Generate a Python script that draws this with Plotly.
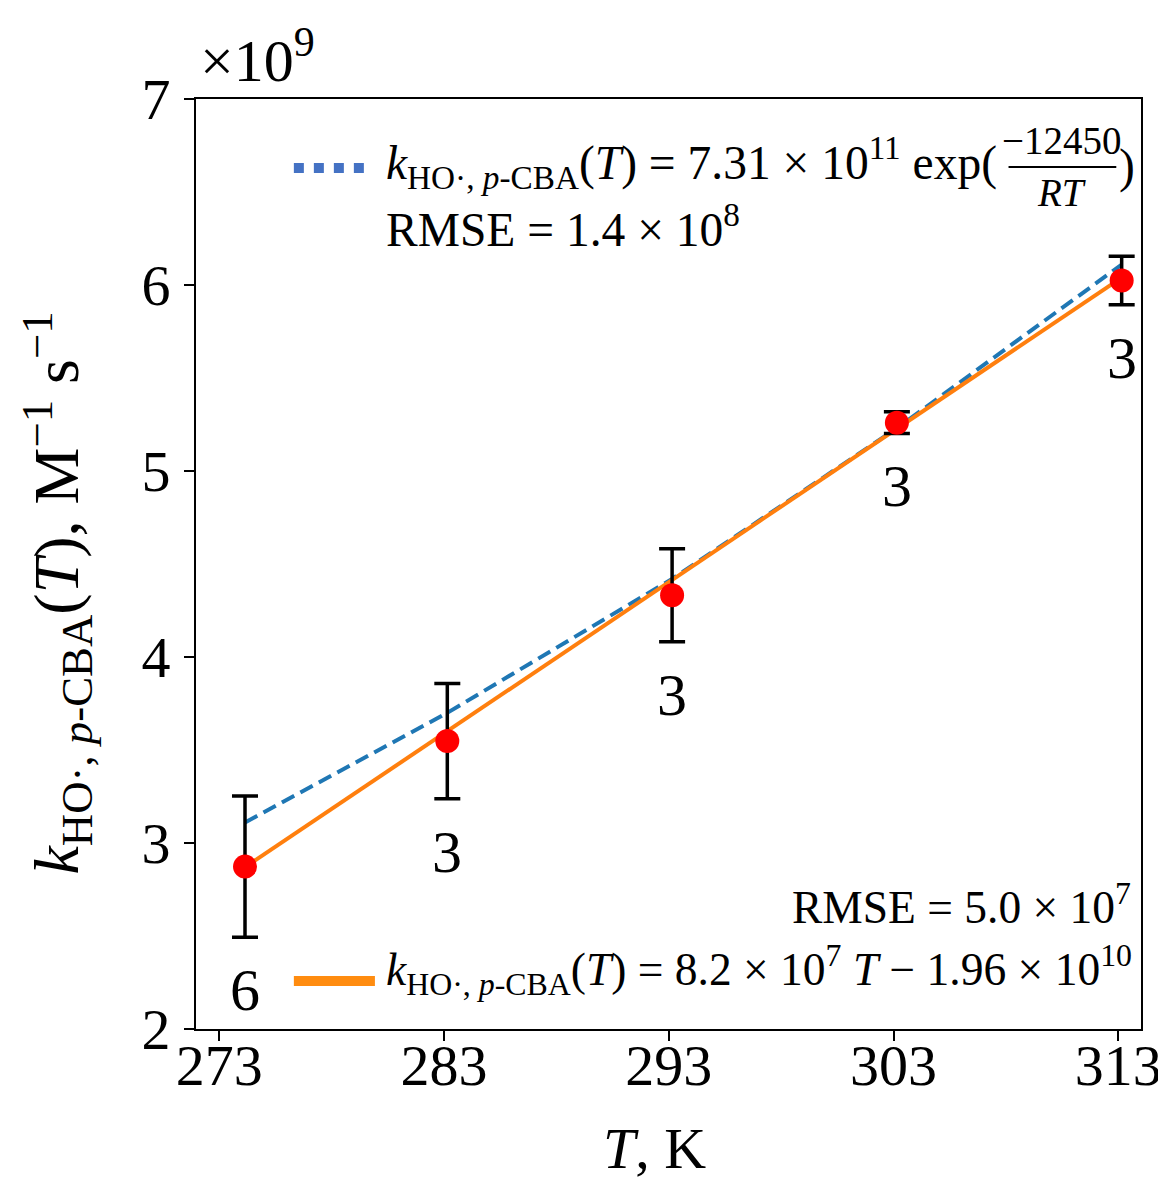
import plotly.graph_objects as go

# ---- data (k in units of 1e9 M^-1 s^-1) ----
T = [274.15, 283.15, 293.15, 303.15, 313.15]
k_obs = [2.873, 3.548, 4.332, 5.260, 6.024]
k_err = [0.38, 0.31, 0.25, 0.058, 0.13]
n_runs = ["6", "3", "3", "3", "3"]
k_arrhenius = [3.11, 3.70, 4.42, 5.23, 6.11]
T_lin = [274.15, 313.15]
k_lin = [2.87, 6.04]
x_ticks = [273, 283, 293, 303, 313]
y_ticks = [2, 3, 4, 5, 6, 7]

FONT = "Liberation Serif, Times New Roman, serif"
W, H = 1166, 1182
L, R, TOP, B = 188, 22, 91, 161
PW, PH = W - L - R, H - TOP - B


def px(x):
    return (x - L) / PW


def py(y):
    return (H - B - y) / PH


fig = go.Figure()
fig.add_trace(go.Scatter(x=T, y=k_arrhenius, mode="lines",
                         line=dict(color="#1f77b4", width=4, dash="14px,7px"),
                         showlegend=False))
fig.add_trace(go.Scatter(x=T_lin, y=k_lin, mode="lines",
                         line=dict(color="#ff7f0e", width=4),
                         showlegend=False))
fig.add_trace(go.Scatter(x=T, y=k_obs, mode="markers",
                         marker=dict(color="#ff0000", size=24),
                         error_y=dict(type="data", array=k_err, visible=True,
                                      color="black", thickness=3.5, width=13),
                         showlegend=False))

BIG = dict(family=FONT, size=60, color="black")
TICK = dict(family=FONT, size=58, color="black")
ann = []
for t, y, e, n in zip(T, k_obs, k_err, n_runs):
    ann.append(dict(x=t, y=y - e, xref="x", yref="y", text=n, showarrow=False,
                    xanchor="center", yanchor="middle", yshift=-53, font=BIG))

LF = dict(family=FONT, size=47.5, color="black")
LF2 = dict(family=FONT, size=45.5, color="black")
FF = dict(family=FONT, size=39, color="black")
sub = "<i>k</i><sub>HO·, <i>p</i>-CBA</sub>(<i>T</i>)"
ann += [
    dict(x=px(378), y=py(154), xref="paper", yref="paper", showarrow=False,
         xanchor="left", yanchor="middle", font=LF,
         text=sub + " = 7.31 × 10<sup>11</sup> exp("),
    dict(x=px(1064), y=py(132), xref="paper", yref="paper", showarrow=False,
         xanchor="center", yanchor="middle", font=FF, text="−12450"),
    dict(x=px(1064), y=py(184), xref="paper", yref="paper", showarrow=False,
         xanchor="center", yanchor="middle", font=FF, text="<i>RT</i>"),
    dict(x=px(1120), y=py(158), xref="paper", yref="paper", showarrow=False,
         xanchor="left", yanchor="middle", font=LF, text=")"),
    dict(x=px(378), y=py(218), xref="paper", yref="paper", showarrow=False,
         xanchor="left", yanchor="middle", font=LF,
         text="RMSE = 1.4 × 10<sup>8</sup>"),
    dict(x=px(1136), y=py(896), xref="paper", yref="paper", showarrow=False,
         xanchor="right", yanchor="middle", font=LF2,
         text="RMSE = 5.0 × 10<sup>7</sup>"),
    dict(x=px(378), y=py(962), xref="paper", yref="paper", showarrow=False,
         xanchor="left", yanchor="middle", font=LF2,
         text=sub + " = 8.2 × 10<sup>7</sup> <i>T</i> − 1.96 × 10<sup>10</sup>"),
    dict(x=px(190), y=py(48), xref="paper", yref="paper", showarrow=False,
         xanchor="left", yanchor="middle", font=BIG,
         text="×10<sup>9</sup>"),
    dict(x=px(47), y=py(585), xref="paper", yref="paper", showarrow=False,
         xanchor="center", yanchor="middle", textangle=-90,
         font=dict(family=FONT, size=64, color="black"),
         text=sub + ", M<sup>−1</sup> s<sup>−1</sup>"),
    dict(x=px(652), y=py(1140), xref="paper", yref="paper", showarrow=False,
         xanchor="center", yanchor="middle", font=TICK,
         text="<i>T</i>, K"),
]

shapes = [
    dict(type="line", xref="paper", yref="paper", x0=px(1010), x1=px(1119),
         y0=py(159), y1=py(159), line=dict(color="black", width=2)),
    dict(type="line", xref="paper", yref="paper", x0=px(287), x1=px(367),
         y0=py(160), y1=py(160), line=dict(color="#4472c4", width=10, dash="10px,10px")),
    dict(type="line", xref="paper", yref="paper", x0=px(287), x1=px(369),
         y0=py(973), y1=py(973), line=dict(color="#ff8c10", width=10)),
]

axis_common = dict(showline=True, linecolor="black", linewidth=2, mirror=True,
                   ticks="outside", ticklen=10, tickwidth=2, tickcolor="black",
                   showgrid=False, zeroline=False, tickfont=TICK)

fig.update_layout(
    width=W, height=H,
    margin=dict(l=L, r=R, t=TOP, b=B, pad=0),
    paper_bgcolor="white", plot_bgcolor="white",
    xaxis=dict(range=[271.97, 314.01], tickvals=x_ticks,
               ticktext=[str(v) for v in x_ticks], ticklabelstandoff=-26,
               **axis_common),
    yaxis=dict(range=[2, 7], tickvals=y_ticks,
               ticktext=[str(v) for v in y_ticks], ticklabelstandoff=2,
               **axis_common),
    annotations=ann, shapes=shapes,
)

fig.write_html("out.html")
